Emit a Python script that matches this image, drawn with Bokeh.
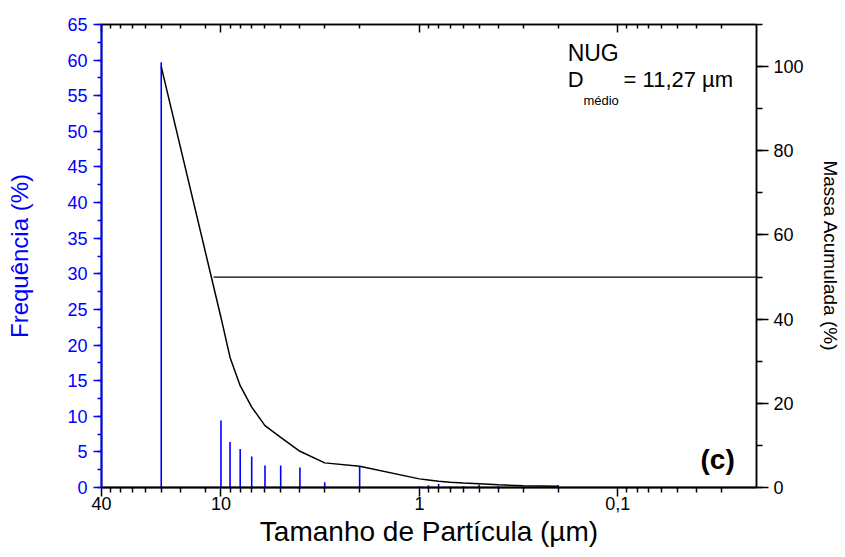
from bokeh.plotting import figure
from bokeh.models import (Range1d, LinearAxis, LogAxis, FixedTicker, SingleIntervalTicker,
                          CustomJSTickFormatter, Label)
from bokeh.embed import file_html
from bokeh.resources import INLINE

# particle sizes (µm) and frequency (%)
sizes = [20, 10, 9, 8, 7, 6, 5, 4, 3, 2, 1, 0.9, 0.8, 0.7, 0.6, 0.5, 0.4, 0.3, 0.2]
freq = [59.7, 9.4, 6.4, 5.4, 4.35, 3.1, 3.1, 2.8, 0.75, 3.0,
        0.15, 0.3, 0.5, 0.1, 0.2, 0.4, 0.2, 0.1, 0.35]
# cumulative mass (%)
cum = [100, 40.4, 30.9, 24.2, 19.1, 14.7, 11.9, 8.6, 5.85, 5.05,
       2.05, 1.8, 1.5, 1.27, 1.05, 0.87, 0.65, 0.4, 0.3]
# D50 reference line
d50_x = [10.9, 0.02]
d50_y = [50, 50]

x_major = [40, 10, 1, 0.1]
x_minor = [36, 32, 28, 24, 20, 16, 12,
           9, 8, 7, 6, 5, 4, 3, 2,
           0.9, 0.8, 0.7, 0.6, 0.5, 0.4, 0.3, 0.2,
           0.09, 0.08, 0.07, 0.06, 0.05, 0.04, 0.03]

FONT = "Liberation Sans"
BLUE = "#0000FF"

p = figure(width=845, height=557, x_axis_type="log",
           x_range=Range1d(40, 0.02), y_range=Range1d(0, 65),
           output_backend="svg", toolbar_location=None,
           min_border_left=101, min_border_right=89,
           min_border_top=24, min_border_bottom=70)
p.extra_y_ranges = {"cum": Range1d(0, 110)}
p.xgrid.visible = False
p.ygrid.visible = False
p.outline_line_color = "black"
p.outline_line_width = 1.5
p.background_fill_color = "white"
p.border_fill_color = "white"

# frequency bars
p.segment(x0=sizes, y0=[0] * len(sizes), x1=sizes, y1=freq,
          line_color=BLUE, line_width=1.6)
# cumulative curve
p.line(sizes, cum, line_color="black", line_width=1.5, y_range_name="cum")
p.line(d50_x, d50_y, line_color="black", line_width=1.3, y_range_name="cum")

# bottom axis
xa = p.xaxis[0]
xa.ticker = FixedTicker(ticks=x_major, minor_ticks=x_minor)
xa.formatter = CustomJSTickFormatter(
    code="return tick >= 1 ? tick.toFixed(0) : String(tick).replace('.', ',');")
xa.axis_label = "Tamanho de Partícula (µm)"
xa.axis_label_text_font = FONT
xa.axis_label_text_font_size = "28px"
xa.axis_label_text_font_style = "normal"
xa.axis_label_text_color = "black"
xa.axis_label_standoff = 3
xa.major_label_text_font = FONT
xa.major_label_text_font_size = "18px"
xa.major_label_text_color = "black"
xa.major_label_standoff = 0
xa.major_tick_out = 9
xa.major_tick_in = 0
xa.minor_tick_out = 5
xa.minor_tick_in = 0
xa.axis_line_width = 2
xa.major_tick_line_width = 1.5
xa.minor_tick_line_width = 1.5

# top mirror axis
top = LogAxis(ticker=FixedTicker(ticks=x_major, minor_ticks=x_minor),
              formatter=CustomJSTickFormatter(code="return '';"),
              major_tick_in=8, major_tick_out=0, minor_tick_in=4, minor_tick_out=0,
              major_label_text_font_size="1px", major_label_standoff=0,
              axis_line_width=1.5, major_tick_line_width=1.5, minor_tick_line_width=1.5)
p.add_layout(top, "above")

# left axis
ya = p.yaxis[0]
ya.ticker = SingleIntervalTicker(interval=5, num_minor_ticks=2)
ya.axis_label = "Frequência (%)"
ya.axis_label_text_font = FONT
ya.axis_label_text_font_size = "24px"
ya.axis_label_text_font_style = "normal"
ya.axis_label_text_color = BLUE
ya.axis_label_standoff = 31
ya.major_label_text_font = FONT
ya.major_label_text_font_size = "18px"
ya.major_label_text_color = BLUE
ya.major_label_standoff = 6
ya.axis_line_color = BLUE
ya.axis_line_width = 2
ya.major_tick_line_color = BLUE
ya.minor_tick_line_color = BLUE
ya.major_tick_out = 8
ya.major_tick_in = 0
ya.minor_tick_out = 4
ya.minor_tick_in = 0
ya.major_tick_line_width = 1.5
ya.minor_tick_line_width = 1.5

# right axis
ra = LinearAxis(y_range_name="cum",
                ticker=SingleIntervalTicker(interval=20, num_minor_ticks=2),
                axis_label="Massa Acumulada (%)")
ra.axis_label_text_font = FONT
ra.axis_label_text_font_size = "19px"
ra.axis_label_text_font_style = "normal"
ra.axis_label_text_color = "black"
ra.axis_label_standoff = 13
ra.major_label_text_font = FONT
ra.major_label_text_font_size = "18px"
ra.major_label_text_color = "black"
ra.major_label_standoff = 5
ra.axis_line_width = 1.5
ra.major_tick_out = 12
ra.major_tick_in = 0
ra.minor_tick_out = 6
ra.minor_tick_in = 0
ra.major_tick_line_width = 1.5
ra.minor_tick_line_width = 1.5
p.add_layout(ra, "right")

# annotations
lab = dict(text_font=FONT, text_color="black", text_align="left",
           text_baseline="alphabetic")
p.add_layout(Label(x=0.179, y=61.0, text="NUG", text_font_size="23px", **lab))
p.add_layout(Label(x=0.179, y=57.3, text="D", text_font_size="22px", **lab))
p.add_layout(Label(x=0.149, y=54.3, text="médio", text_font_size="13px", **lab))
p.add_layout(Label(x=0.0935, y=57.3, text="= 11,27 µm", text_font_size="22px", **lab))
p.add_layout(Label(x=0.0383, y=3.9, text="(c)", text_font_style="bold",
                   text_font_size="28px", **lab))

open("out.html", "w").write(file_html(p, INLINE))
